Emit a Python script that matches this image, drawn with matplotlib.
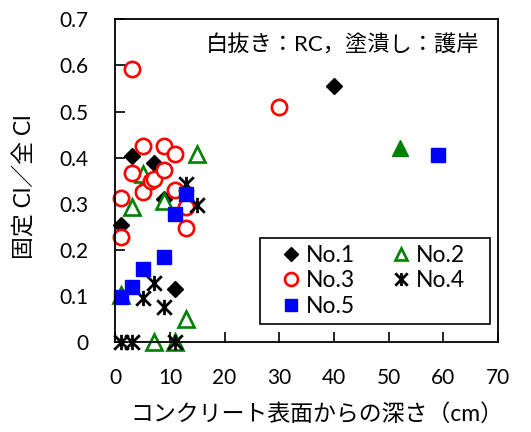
import matplotlib
matplotlib.use("Agg")
import matplotlib.pyplot as plt
from matplotlib.path import Path
from matplotlib.patches import Rectangle

plt.rcParams['font.family'] = ['Lato', 'Noto Sans CJK JP', 'DejaVu Sans']

# データ（深さ cm, 固定Cl/全Cl）
no1_x = [1, 3, 5, 7, 9, 11, 40]
no1_y = [0.254, 0.403, 0.332, 0.388, 0.31, 0.115, 0.556]

no2_x = [1, 3, 5, 7, 9, 11, 13, 15]
no2_y = [0.101, 0.292, 0.365, 0.0, 0.305, 0.0, 0.049, 0.407]
no2_fill_x = [52]
no2_fill_y = [0.42]

no3_x = [1, 1, 3, 3, 5, 5, 6.5, 7.1, 9, 9, 11, 11, 13, 13, 30]
no3_y = [0.312, 0.228, 0.593, 0.367, 0.426, 0.325, 0.35, 0.353,
         0.426, 0.373, 0.407, 0.33, 0.293, 0.248, 0.509]

no4_x = [1, 3, 5, 7, 9, 11, 13, 15]
no4_y = [0.0, 0.0, 0.096, 0.128, 0.075, 0.0, 0.343, 0.296]

no5_x = [1, 3, 5, 9, 11, 13, 59]
no5_y = [0.098, 0.118, 0.158, 0.183, 0.278, 0.32, 0.406]

xticks = [0, 10, 20, 30, 40, 50, 60, 70]
yticks = [0, 0.1, 0.2, 0.3, 0.4, 0.5, 0.6, 0.7]
ytick_labels = ['0', '0.1', '0.2', '0.3', '0.4', '0.5', '0.6', '0.7']

# Excel風の「*」マーカー（X＋縦線）
star = Path([(-1, -1), (1, 1), (-1, 1), (1, -1), (0, -1.05), (0, 1.05)],
            [Path.MOVETO, Path.LINETO, Path.MOVETO, Path.LINETO, Path.MOVETO, Path.LINETO])

fig = plt.figure(figsize=(5.31, 4.32), dpi=100)
ax = fig.add_axes([0.217, 0.209, 0.721, 0.746])

h1, = ax.plot(no1_x, no1_y, ls='none', marker='D', ms=8.5, color='black',
              label='No.1', clip_on=False)
h2, = ax.plot(no2_x, no2_y, ls='none', marker='^', ms=11, mfc='white', mec='green',
              mew=1.9, label='No.2', clip_on=False)
ax.plot(no2_fill_x, no2_fill_y, ls='none', marker='^', ms=11, color='green',
        clip_on=False)
h3, = ax.plot(no3_x, no3_y, ls='none', marker='o', ms=11, mfc='white', mec='red',
              mew=1.9, label='No.3', clip_on=False)
h4, = ax.plot(no4_x, no4_y, ls='none', marker=star, ms=11, color='black', mew=2.0,
              label='No.4', clip_on=False)
h5, = ax.plot(no5_x, no5_y, ls='none', marker='s', ms=10.5, color='blue',
              label='No.5', clip_on=False)

ax.set_xlim(0, 70)
ax.set_ylim(0, 0.7)
ax.set_xticks(xticks)
ax.set_yticks(yticks)
ax.set_yticklabels(ytick_labels)
ax.tick_params(direction='in', length=7, width=1.2, labelsize=15, pad=19)
for s in ax.spines.values():
    s.set_linewidth(1.3)

ax.set_xlabel('コンクリート表面からの深さ（cm）', fontsize=16.5)
ax.xaxis.set_label_coords(0.528, -0.19)
ax.set_ylabel('固定 Cl／全 Cl', fontsize=16.5)
ax.yaxis.set_label_coords(-0.21, 0.48)

ax.text(0.952, 0.921, '白抜き：RC，塗潰し：護岸', transform=ax.transAxes,
        ha='right', va='center', fontsize=16)

# 凡例の枠は別に描く
box = Rectangle((0.378, 0.056), 0.6, 0.266, transform=ax.transAxes,
                facecolor='white', edgecolor='black', linewidth=1.2, zorder=4)
ax.add_patch(box)

# 行順に並べる（列優先で埋まるので順番を入れ替え）
leg = ax.legend([h1, h3, h5, h2, h4], ['No.1', 'No.3', 'No.5', 'No.2', 'No.4'],
                ncol=2, loc='center', bbox_to_anchor=(0.672, 0.189),
                borderaxespad=0, borderpad=0, fontsize=16.5, frameon=False,
                handletextpad=0.15, columnspacing=1.5, handlelength=1.0,
                labelspacing=0.2, markerscale=0.85)
leg.set_zorder(5)

fig.savefig('out.png', dpi=100)
